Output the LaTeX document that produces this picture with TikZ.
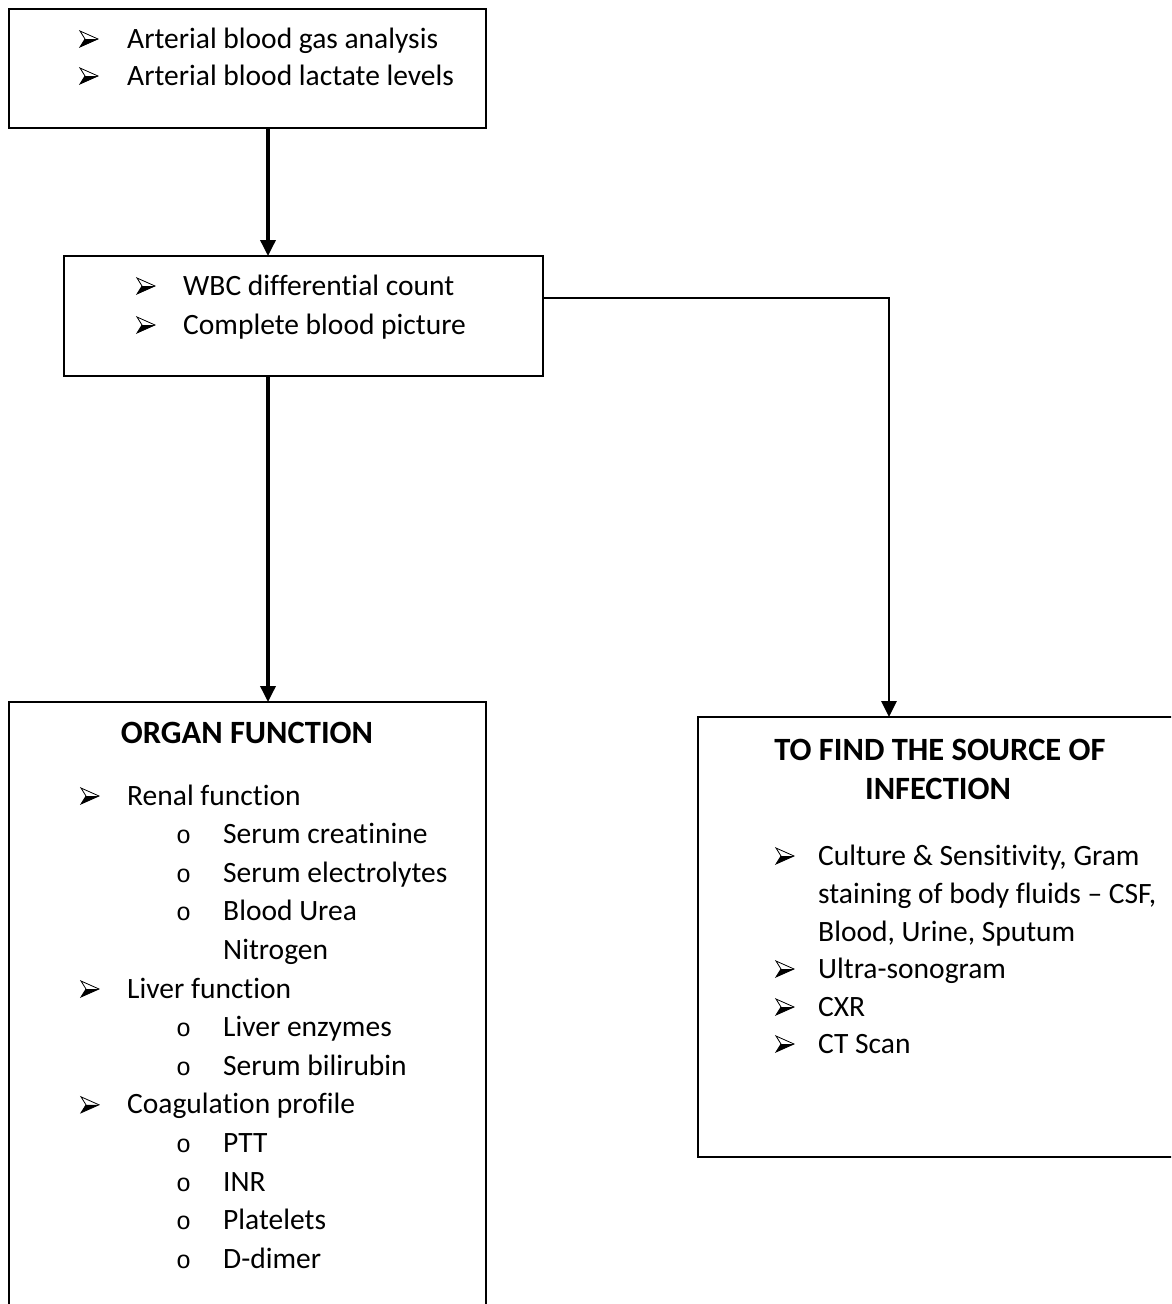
\documentclass[tikz,border=0pt]{standalone}
\usepackage{fontspec}
\setmainfont{Carlito}[Ligatures=NoCommon]
\newfontfamily\bulfont{Liberation Mono}
\usetikzlibrary{arrows.meta}
\begin{document}
\begin{tikzpicture}[x=1pt,y=-1pt,
  box/.style={draw, line width=2.4pt, inner sep=0pt, outer sep=0pt},
  txt/.style={anchor=base west, inner sep=0pt, font=\fontsize{29.5}{32}\selectfont},
  hd/.style={anchor=base, inner sep=0pt, font=\fontsize{32.5}{36}\selectfont\bfseries},
  subb/.style={anchor=base west, inner sep=0pt, font=\fontsize{25}{30}\bulfont},
  conn/.style={line width=3.5pt, -{Triangle[length=16pt,width=15pt]}},
  arrb/.pic={\draw[line width=0.8pt, line join=miter] (-9,-8) -- (9,0) -- (-9,8) -- (-4,0) -- cycle;
             \fill (-4,0) -- (9,0) -- (-9,8) -- cycle;}
]
\useasboundingbox (0,0) rectangle (1171,1304);
\clip (0,0) rectangle (1171,1304);
\fill[white] (0,0) rectangle (1171,1304);

% boxes
\node[box, minimum width=477pt, minimum height=119pt] (b1) at (247.5,68.5) {};
\node[box, minimum width=479pt, minimum height=120pt] (b2) at (303.5,316) {};
\node[box, minimum width=477pt, minimum height=640pt] (b3) at (247.5,1022) {};
\node[box, minimum width=482pt, minimum height=440pt] (b4) at (939,937) {};

% connector helper coordinates
\coordinate (a1) at (268,0);
\coordinate (r1) at (543,298);
\coordinate (r2) at (889,0);

\draw[conn] (b1.south -| a1) -- (b2.north -| a1);
\draw[conn] (b2.south -| a1) -- (b3.north -| a1);
\draw[conn, line width=2.8pt] (b2.east |- r1) -| (b4.north -| r2);

% box 1
\pic at (89,39) {arrb};
\node[txt] (t11) at (127,48) {Arterial blood gas analysis};
\pic at (89,76) {arrb};
\node[txt] (t12) at (127,85) {Arterial blood lactate levels};

% box 2
\pic at (146,286) {arrb};
\node[txt] (t21) at (183,295) {WBC differential count};
\pic at (146,325) {arrb};
\node[txt] (t22) at (183,334) {Complete blood picture};

% box 3
\node[hd] (h3) at (247,743) {ORGAN FUNCTION};
\pic at (90,796) {arrb};
\node[txt] (t31) at (127,805) {Renal function};
\node[subb] (o1) at (176,843.6) {o};
\node[txt] (t32) at (223,843.6) {Serum creatinine};
\node[subb] (o2) at (176,882.2) {o};
\node[txt] (t33) at (223,882.2) {Serum electrolytes};
\node[subb] (o3) at (176,920.8) {o};
\node[txt] (t34) at (223,920.8) {Blood Urea};
\node[txt] (t35) at (223,959.4) {Nitrogen};
\pic at (90,989) {arrb};
\node[txt] (t36) at (127,998) {Liver function};
\node[subb] (o4) at (176,1036.6) {o};
\node[txt] (t37) at (223,1036.6) {Liver enzymes};
\node[subb] (o5) at (176,1075.2) {o};
\node[txt] (t38) at (223,1075.2) {Serum bilirubin};
\pic at (90,1104.8) {arrb};
\node[txt] (t39) at (127,1113.8) {Coagulation profile};
\node[subb] (o6) at (176,1152.4) {o};
\node[txt] (t310) at (223,1152.4) {PTT};
\node[subb] (o7) at (176,1191) {o};
\node[txt] (t311) at (223,1191) {INR};
\node[subb] (o8) at (176,1229.6) {o};
\node[txt] (t312) at (223,1229.6) {Platelets};
\node[subb] (o9) at (176,1268.2) {o};
\node[txt] (t313) at (223,1268.2) {D-dimer};

% box 4
\node[hd] (h41) at (940,760) {TO FIND THE SOURCE OF};
\node[hd] (h42) at (938,799) {INFECTION};
\pic at (785,856) {arrb};
\node[txt] (t41) at (818,865) {Culture \& Sensitivity, Gram};
\node[txt] (t42) at (818,903) {staining of body fluids – CSF,};
\node[txt] (t43) at (818,941) {Blood, Urine, Sputum};
\pic at (785,969) {arrb};
\node[txt] (t44) at (818,978) {Ultra-sonogram};
\pic at (785,1007) {arrb};
\node[txt] (t45) at (818,1016) {CXR};
\pic at (785,1044) {arrb};
\node[txt] (t46) at (818,1053) {CT Scan};
\end{tikzpicture}
\end{document}
